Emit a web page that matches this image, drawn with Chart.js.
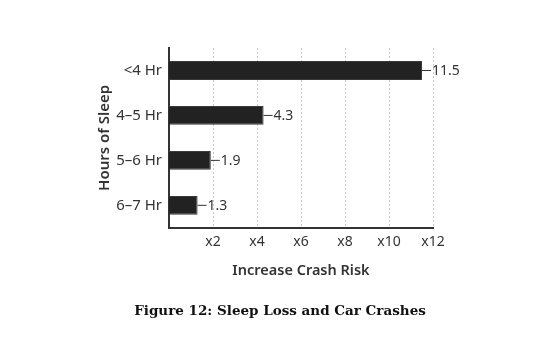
<!DOCTYPE html>
<html>
<head>
<meta charset="utf-8">
<script src="https://cdn.jsdelivr.net/npm/chart.js@4/dist/chart.umd.min.js"></script>
<style>
  html, body { margin: 0; padding: 0; background: #fff; }
  #wrap { width: 560px; height: 354px; }
</style>
</head>
<body>
<div id="wrap"><canvas id="chart" width="560" height="354"></canvas></div>
<script>
const categories = ['<4 Hr', '4\u20135 Hr', '5\u20136 Hr', '6\u20137 Hr'];
const crashRisk = [11.5, 4.3, 1.9, 1.3];
const tickValues = [2, 4, 6, 8, 10, 12];
const figureTitle = 'Figure 12: Sleep Loss and Car Crashes';

// short leader line + value at the end of each bar, and the figure caption
const valueLabels = {
    id: 'valueLabels',
    afterDatasetsDraw(chart) {
        const ctx = chart.ctx;
        const meta = chart.getDatasetMeta(0);
        ctx.save();
        ctx.strokeStyle = '#333';
        ctx.lineWidth = 1;
        ctx.fillStyle = '#333';
        ctx.font = '14px "Noto Sans", sans-serif';
        ctx.textBaseline = 'middle';
        meta.data.forEach((bar, i) => {
            const x = bar.x;
            const y = bar.y;
            ctx.beginPath();
            ctx.moveTo(x, y);
            ctx.lineTo(x + 9, y);
            ctx.stroke();
            ctx.fillText(String(crashRisk[i]), x + 10, y + 1);
        });
        ctx.restore();
    },
    afterDraw(chart) {
        const ctx = chart.ctx;
        ctx.save();
        ctx.fillStyle = '#111';
        ctx.font = 'bold 13.5px "DejaVu Serif", serif';
        ctx.textAlign = 'center';
        ctx.textBaseline = 'middle';
        ctx.fillText(figureTitle, chart.width / 2, 311);
        ctx.restore();
    }
};

const ctx = document.getElementById('chart').getContext('2d');
new Chart(ctx, {
    type: 'bar',
    data: {
        labels: categories,
        datasets: [{
            data: crashRisk,
            backgroundColor: '#222222',
            borderColor: '#3a3a3a',
            borderWidth: 1,
            borderSkipped: 'left',
            barPercentage: 0.42,
            categoryPercentage: 1
        }]
    },
    options: {
        indexAxis: 'y',
        responsive: false,
        animation: false,
        layout: { padding: { left: 92, right: 127, top: 48, bottom: 70 } },
        plugins: {
            legend: { display: false },
            tooltip: { enabled: false },
            title: { display: false }
        },
        scales: {
            x: {
                min: 0,
                max: 12,
                afterBuildTicks(scale) {
                    scale.ticks = tickValues.map(v => ({ value: v }));
                },
                ticks: {
                    color: '#333',
                    font: { family: '"Noto Sans", sans-serif', size: 14 },
                    padding: 6,
                    callback: v => 'x' + v
                },
                grid: {
                    color: '#c8c8c8',
                    drawTicks: false
                },
                border: { display: true, color: '#333', width: 2, dash: [2, 2] },
                title: {
                    display: true,
                    text: 'Increase Crash Risk',
                    color: '#333',
                    font: { family: '"Noto Sans", sans-serif', size: 14.5, weight: '600' },
                    padding: { top: 6 }
                }
            },
            y: {
                afterFit(scale) {
                    scale.width = 77;
                },
                ticks: {
                    color: '#333',
                    font: { family: '"Noto Sans", sans-serif', size: 15 },
                    padding: 7
                },
                grid: { display: false, drawTicks: false },
                border: { display: true, color: '#333', width: 2 },
                title: {
                    display: true,
                    text: 'Hours of Sleep',
                    color: '#333',
                    font: { family: '"Noto Sans", sans-serif', size: 15, weight: '600' },
                    padding: { bottom: 2 }
                }
            }
        }
    },
    plugins: [valueLabels]
});
</script>
</body>
</html>
